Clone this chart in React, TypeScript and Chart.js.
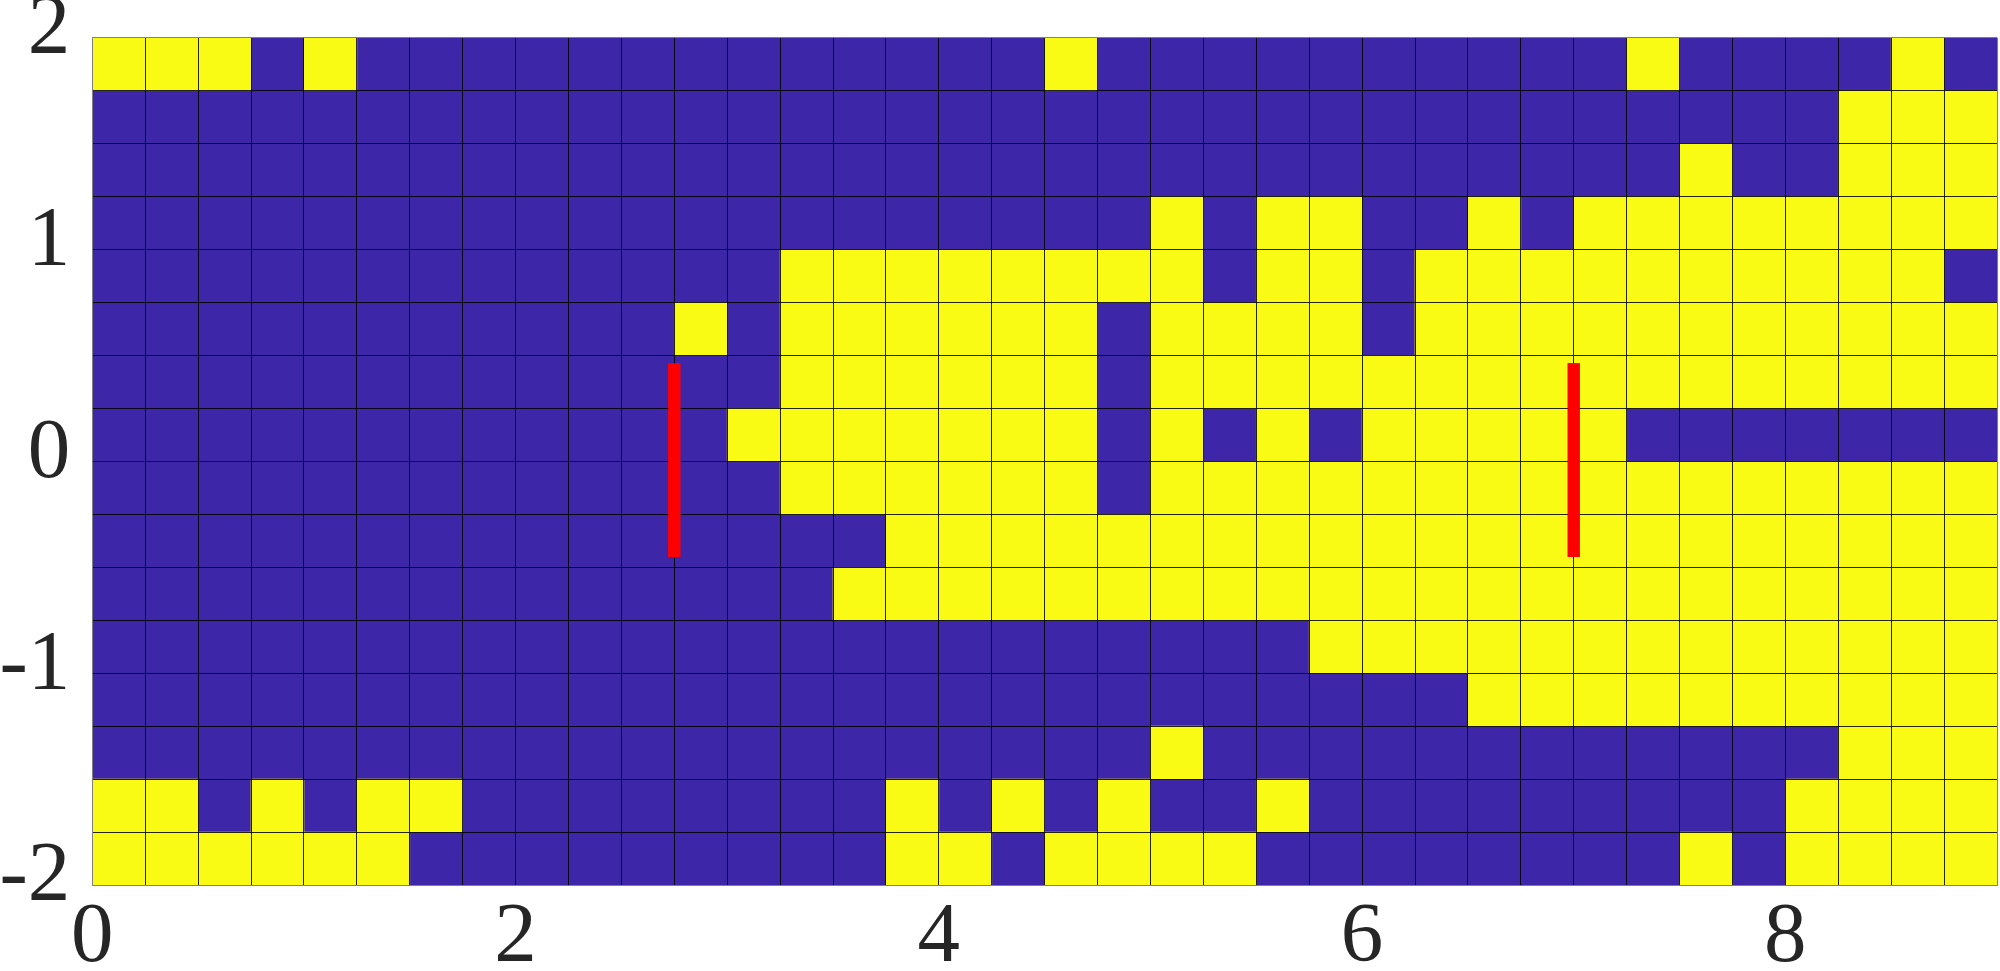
import React, { useEffect, useRef } from 'react';
import { Chart, registerables } from 'chart.js';

Chart.register(...registerables);

// Axis extents and tick labels
const xMin = 0;
const xMax = 9;
const yMin = -2;
const yMax = 2;
const xTickValues = [0, 2, 4, 6, 8];
const yTickValues = [-2, -1, 0, 1, 2];
const yTickLabels = ['-2', '-1', '0', '1', '2'];

// Cell states, top row (y 1.75..2) first, left column (x 0..0.25) first. 1 = yellow, 0 = blue
const row00 = [1,1,1,0,1,0,0,0,0,0,0,0,0,0,0,0,0,0,1,0,0,0,0,0,0,0,0,0,0,1,0,0,0,0,1,0];
const row01 = [0,0,0,0,0,0,0,0,0,0,0,0,0,0,0,0,0,0,0,0,0,0,0,0,0,0,0,0,0,0,0,0,0,1,1,1];
const row02 = [0,0,0,0,0,0,0,0,0,0,0,0,0,0,0,0,0,0,0,0,0,0,0,0,0,0,0,0,0,0,1,0,0,1,1,1];
const row03 = [0,0,0,0,0,0,0,0,0,0,0,0,0,0,0,0,0,0,0,0,1,0,1,1,0,0,1,0,1,1,1,1,1,1,1,1];
const row04 = [0,0,0,0,0,0,0,0,0,0,0,0,0,1,1,1,1,1,1,1,1,0,1,1,0,1,1,1,1,1,1,1,1,1,1,0];
const row05 = [0,0,0,0,0,0,0,0,0,0,0,1,0,1,1,1,1,1,1,0,1,1,1,1,0,1,1,1,1,1,1,1,1,1,1,1];
const row06 = [0,0,0,0,0,0,0,0,0,0,0,0,0,1,1,1,1,1,1,0,1,1,1,1,1,1,1,1,1,1,1,1,1,1,1,1];
const row07 = [0,0,0,0,0,0,0,0,0,0,0,0,1,1,1,1,1,1,1,0,1,0,1,0,1,1,1,1,1,0,0,0,0,0,0,0];
const row08 = [0,0,0,0,0,0,0,0,0,0,0,0,0,1,1,1,1,1,1,0,1,1,1,1,1,1,1,1,1,1,1,1,1,1,1,1];
const row09 = [0,0,0,0,0,0,0,0,0,0,0,0,0,0,0,1,1,1,1,1,1,1,1,1,1,1,1,1,1,1,1,1,1,1,1,1];
const row10 = [0,0,0,0,0,0,0,0,0,0,0,0,0,0,1,1,1,1,1,1,1,1,1,1,1,1,1,1,1,1,1,1,1,1,1,1];
const row11 = [0,0,0,0,0,0,0,0,0,0,0,0,0,0,0,0,0,0,0,0,0,0,0,1,1,1,1,1,1,1,1,1,1,1,1,1];
const row12 = [0,0,0,0,0,0,0,0,0,0,0,0,0,0,0,0,0,0,0,0,0,0,0,0,0,0,1,1,1,1,1,1,1,1,1,1];
const row13 = [0,0,0,0,0,0,0,0,0,0,0,0,0,0,0,0,0,0,0,0,1,0,0,0,0,0,0,0,0,0,0,0,0,1,1,1];
const row14 = [1,1,0,1,0,1,1,0,0,0,0,0,0,0,0,1,0,1,0,1,0,0,1,0,0,0,0,0,0,0,0,0,1,1,1,1];
const row15 = [1,1,1,1,1,1,0,0,0,0,0,0,0,0,0,1,1,0,1,1,1,1,0,0,0,0,0,0,0,0,1,0,1,1,1,1];
const cellRows = [row00, row01, row02, row03, row04, row05, row06, row07, row08, row09, row10, row11, row12, row13, row14, row15];

// Red vertical markers
const markerX = [2.75, 7.0];
const markerLow = [-0.452, -0.452];
const markerHigh = [0.463, 0.463];

const BLUE = '#3E26A8';
const YELLOW = '#F9FB15';
const RED = '#FF0000';
const TEXT = '#262626';
const GRID = 'rgba(0,0,0,0.85)';
const EDGE = '#808080';

const nRows = cellRows.length;
const nCols = cellRows[0].length;
const cellW = (xMax - xMin) / nCols;
const cellH = (yMax - yMin) / nRows;
const xEdges = Array.from({ length: nCols + 1 }, (_, i) => xMin + i * cellW);
const yEdges = Array.from({ length: nRows + 1 }, (_, i) => yMin + i * cellH);

const yellowCells: { x: number; y: number[] }[] = [];
const blueCells: { x: number; y: number[] }[] = [];
cellRows.forEach((row, r) => {
  row.forEach((v, c) => {
    const pt = { x: xMin + (c + 0.5) * cellW, y: [yMax - (r + 1) * cellH, yMax - r * cellH] };
    (v ? yellowCells : blueCells).push(pt);
  });
});

const markersOnTop = {
  id: 'markersOnTop',
  afterDraw(chart: any) {
    chart.data.datasets.forEach((ds: any, i: number) => {
      if (ds.type === 'line') {
        const meta = chart.getDatasetMeta(i);
        if (meta.visible) meta.controller.draw();
      }
    });
  },
};

const tickFont = { family: "'Liberation Serif', 'Times New Roman', serif", size: 85 };

export default function App() {
  const ref = useRef<HTMLCanvasElement>(null);
  useEffect(() => {
    document.body.style.margin = '0';
    const datasets: any[] = markerX.map((mx, i) => ({
      type: 'line',
      label: 'marker ' + (i + 1),
      data: [
        { x: mx, y: markerLow[i] },
        { x: mx, y: markerHigh[i] },
      ],
      borderColor: RED,
      backgroundColor: RED,
      borderWidth: 12,
      borderCapStyle: 'butt',
      pointRadius: 0,
      fill: false,
      tension: 0,
      order: 0,
    }));
    datasets.push({
      type: 'bar',
      label: 'state 1',
      data: yellowCells,
      backgroundColor: YELLOW,
      borderWidth: 0,
      barPercentage: 1,
      categoryPercentage: 1,
      grouped: false,
      order: 2,
    });
    datasets.push({
      type: 'bar',
      label: 'state 0',
      data: blueCells,
      backgroundColor: BLUE,
      borderWidth: 0,
      barPercentage: 1,
      categoryPercentage: 1,
      grouped: false,
      order: 3,
    });

    const chart = new Chart(ref.current as HTMLCanvasElement, {
      type: 'bar',
      data: { datasets },
      options: {
        responsive: false,
        animation: false,
        events: [],
        layout: { padding: { top: 37.7, right: 3, left: 0, bottom: 0 } },
        plugins: { legend: { display: false }, tooltip: { enabled: false } },
        scales: {
          x: {
            type: 'linear',
            min: xMin,
            max: xMax,
            offset: false,
            afterBuildTicks: (s: any) => {
              s.ticks = xEdges.map((v) => ({ value: v }));
            },
            afterFit: (s: any) => {
              s.height = 86;
              s.paddingLeft = 0;
              s.paddingRight = 0;
            },
            ticks: {
              autoSkip: false,
              maxRotation: 0,
              minRotation: 0,
              padding: 3,
              color: TEXT,
              font: tickFont,
              callback: (v: any) => (xTickValues.includes(Number(v)) ? String(v) : ''),
            },
            grid: {
              offset: false,
              drawTicks: false,
              lineWidth: 1,
              color: (c: any) => (c.tick && c.tick.value === xMax ? EDGE : GRID),
              z: 1,
            },
            border: { display: true, color: EDGE, width: 1, z: 2 },
          },
          y: {
            type: 'linear',
            min: yMin,
            max: yMax,
            afterBuildTicks: (s: any) => {
              s.ticks = yEdges.map((v) => ({ value: v }));
            },
            afterFit: (s: any) => {
              s.width = 92.3;
              s.paddingTop = 0;
              s.paddingBottom = 0;
            },
            ticks: {
              autoSkip: false,
              padding: 22,
              labelOffset: -7,
              color: TEXT,
              font: tickFont,
              callback: (v: any) => {
                const k = yTickValues.indexOf(Number(v));
                return k >= 0 ? yTickLabels[k] : '';
              },
            },
            grid: {
              drawTicks: false,
              lineWidth: 1,
              color: (c: any) => (c.tick && c.tick.value === yMax ? EDGE : GRID),
              z: 1,
            },
            border: { display: true, color: EDGE, width: 1, z: 2 },
          },
        },
      } as any,
      plugins: [markersOnTop],
    });
    return () => chart.destroy();
  }, []);

  return (
    <div style={{ width: 2000, height: 971, background: '#ffffff' }}>
      <canvas ref={ref} width={2000} height={971} style={{ display: 'block' }} />
    </div>
  );
}
